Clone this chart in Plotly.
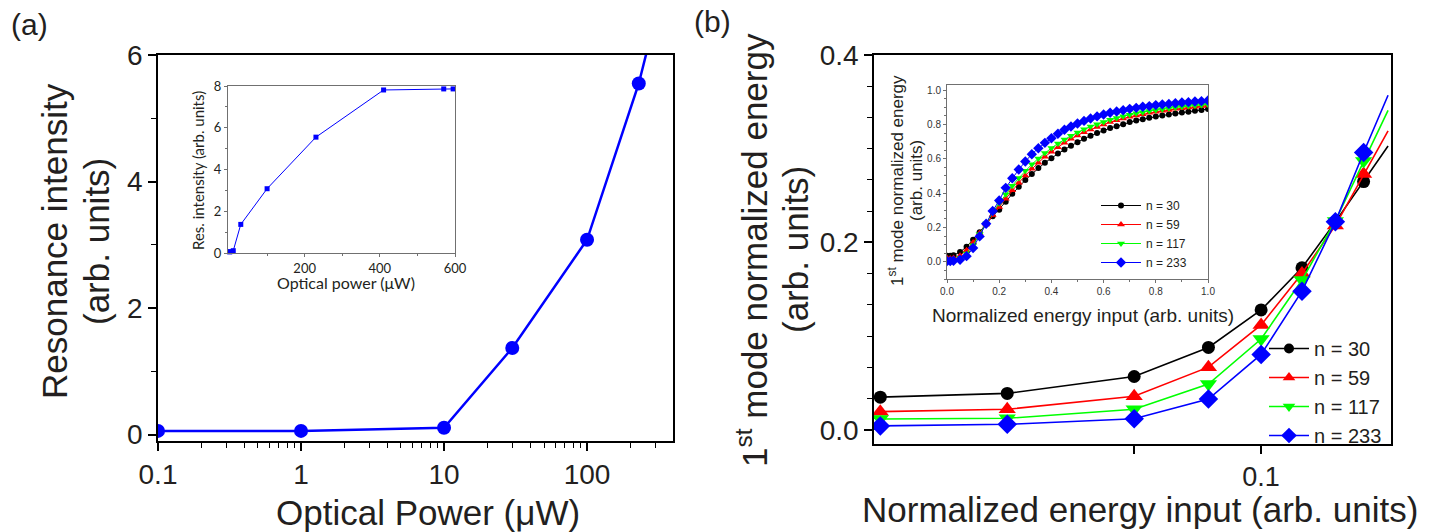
import plotly.graph_objects as go

W, H = 1436, 532

# ---------------- data ----------------
# panel (a): resonance intensity vs optical power
power_uw = [0.1, 1, 10, 30, 100, 230, 410, 570, 595]
res_intensity = [0.06, 0.06, 0.11, 1.37, 3.08, 5.55, 7.81, 7.86, 7.86]

# panel (b): 1st mode normalized energy vs normalized energy input
energy_in = [0.0, 0.0125, 0.025, 0.05, 0.075, 0.1, 0.125, 0.15, 0.175, 0.2,
             0.225, 0.25, 0.275, 0.3, 0.325, 0.35, 0.375, 0.4, 0.425, 0.45,
             0.475, 0.5, 0.525, 0.55, 0.575, 0.6, 0.625, 0.65, 0.675, 0.7,
             0.725, 0.75, 0.775, 0.8, 0.825, 0.85, 0.875, 0.9, 0.925, 0.95,
             0.975, 1.0]
n30 = [0.036, 0.035, 0.039, 0.057, 0.088, 0.128, 0.173, 0.222, 0.265, 0.303,
       0.350, 0.396, 0.437, 0.476, 0.511, 0.546, 0.577, 0.604, 0.631, 0.654,
       0.676, 0.697, 0.717, 0.734, 0.750, 0.765, 0.779, 0.790, 0.802, 0.814,
       0.823, 0.831, 0.839, 0.847, 0.852, 0.858, 0.864, 0.870, 0.874, 0.880,
       0.884, 0.890]
n59 = [0.022, 0.0195, 0.022, 0.036, 0.067, 0.112, 0.167, 0.218, 0.273, 0.319,
       0.367, 0.417, 0.460, 0.503, 0.542, 0.577, 0.612, 0.641, 0.668, 0.693,
       0.717, 0.736, 0.755, 0.771, 0.786, 0.800, 0.814, 0.825, 0.835, 0.845,
       0.852, 0.860, 0.868, 0.874, 0.880, 0.885, 0.891, 0.895, 0.899, 0.903,
       0.907, 0.911]
n117 = [0.012, 0.0117, 0.0124, 0.022, 0.049, 0.097, 0.160, 0.223, 0.287, 0.341,
        0.393, 0.443, 0.488, 0.530, 0.568, 0.602, 0.634, 0.663, 0.689, 0.713,
        0.734, 0.754, 0.772, 0.788, 0.802, 0.815, 0.827, 0.838, 0.848, 0.857,
        0.865, 0.872, 0.878, 0.884, 0.889, 0.894, 0.899, 0.903, 0.907, 0.911,
        0.914, 0.917]
n233 = [0.004, 0.0043, 0.006, 0.012, 0.033, 0.0805, 0.148, 0.222, 0.296, 0.357,
        0.431, 0.487, 0.538, 0.584, 0.627, 0.662, 0.693, 0.720, 0.746, 0.769,
        0.788, 0.806, 0.821, 0.835, 0.847, 0.858, 0.868, 0.876, 0.883, 0.891,
        0.897, 0.903, 0.907, 0.913, 0.917, 0.920, 0.924, 0.928, 0.930, 0.934,
        0.936, 0.940]
series_labels = ["n = 30", "n = 59", "n = 117", "n = 233"]
series_values = [n30, n59, n117, n233]

# ---------------- style ----------------
TXT = "#231f20"
FONT = "Liberation Sans"
colors = ["#000000", "#ff0000", "#00ff00", "#0000ff"]
symbols = ["circle", "triangle-up", "triangle-down", "diamond"]
main_sizes = [13, 15, 15, 15]
legend_sizes = [10, 11, 11, 12]
inset_sizes = [6, 7, 7, 8]
MAIN_X_MAX = 0.2


def dx(p):
    return p / W


def dy(p):
    return 1 - p / H


fig = go.Figure()

# (a) main
fig.add_trace(go.Scatter(
    x=power_uw, y=res_intensity, xaxis="x", yaxis="y", mode="lines+markers",
    line=dict(color="#0000ff", width=2.5), marker=dict(size=14, color="#0000ff"),
    showlegend=False))
# (a) inset
fig.add_trace(go.Scatter(
    x=power_uw, y=res_intensity, xaxis="x2", yaxis="y2", mode="lines+markers",
    line=dict(color="#0000ff", width=1), marker=dict(size=5, symbol="square", color="#0000ff"),
    showlegend=False, cliponaxis=False))

# (b) main (log view of low-energy part)
for lab, vals, c, s, ms, ls in zip(series_labels, series_values, colors, symbols,
                                   main_sizes, legend_sizes):
    xs, ys, sz = [], [], []
    for xv, yv in zip(energy_in, vals):
        if 0 < xv <= MAIN_X_MAX:
            xs.append(xv)
            ys.append(yv)
            sz.append(0 if xv >= MAIN_X_MAX else ms)
    fig.add_trace(go.Scatter(
        x=xs, y=ys, xaxis="x3", yaxis="y3", mode="lines+markers", name=lab,
        line=dict(color=c, width=1.6),
        marker=dict(size=sz, symbol=s, color=c, opacity=1, line=dict(width=0)),
        showlegend=False))
    # legend entry (no data, only the key)
    fig.add_trace(go.Scatter(
        x=[None], y=[None], xaxis="x3", yaxis="y3", mode="lines+markers", name=lab,
        line=dict(color=c, width=1.6), marker=dict(size=ls, symbol=s, color=c),
        legend="legend"))

# (b) inset
for lab, vals, c, s, ms in zip(series_labels, series_values, colors, symbols, inset_sizes):
    fig.add_trace(go.Scatter(
        x=energy_in, y=vals, xaxis="x4", yaxis="y4", mode="lines+markers", name=lab,
        line=dict(color=c, width=1), marker=dict(size=ms, symbol=s, color=c),
        legend="legend2"))

main_ax = dict(showgrid=False, zeroline=False, showline=True, linecolor="black",
               linewidth=1.5, mirror=True, ticks="outside", ticklen=8, tickwidth=1.5,
               tickcolor="black", automargin=False,
               tickfont=dict(family=FONT, size=28, color=TXT))
inset_ax = dict(showgrid=False, zeroline=False, showline=True, linecolor="#707070",
                linewidth=1, mirror=True, ticks="outside", ticklen=3, tickwidth=1,
                tickcolor="#707070", automargin=False)

log_minor = [k * 10 ** e for e in range(-1, 3) for k in range(2, 10)]

fig.update_layout(
    width=W, height=H, margin=dict(l=0, r=0, t=0, b=0),
    paper_bgcolor="white", plot_bgcolor="white",
    xaxis=dict(main_ax, type="log", range=[-1, 2.601], domain=[dx(158), dx(673)], anchor="y",
               tickvals=[0.1, 1, 10, 100], ticktext=["0.1", "1", "10", "100"],
               minor=dict(ticks="outside", ticklen=5, tickwidth=1, tickcolor="black",
                          tickvals=log_minor)),
    yaxis=dict(main_ax, range=[-0.1, 6], domain=[dy(441), dy(55)], anchor="x",
               tick0=0, dtick=2,
               minor=dict(ticks="outside", ticklen=5, tickwidth=1, tickcolor="black", dtick=1)),
    xaxis2=dict(inset_ax, range=[-4, 600], domain=[dx(228), dx(455)], anchor="y2",
                tickvals=[200, 400, 600],
                tickfont=dict(family="Lato", size=13, color=TXT),
                minor=dict(ticks="outside", ticklen=2, tickcolor="#707070", tickvals=[100, 300, 500])),
    yaxis2=dict(inset_ax, range=[0, 8], domain=[dy(253), dy(86)], anchor="x2",
                tick0=0, dtick=2,
                tickfont=dict(family="Lato", size=13, color=TXT),
                minor=dict(ticks="outside", ticklen=2, tickcolor="#707070", dtick=1)),
    xaxis3=dict(main_ax, type="log", range=[-1.918, -0.692], domain=[dx(874), dx(1391)],
                anchor="y3", tickvals=[0.1], ticktext=["0.1"], ticklen=8,
                tickfont=dict(family=FONT, size=27, color=TXT),
                minor=dict(ticks="outside", ticklen=8, tickwidth=1.5, tickcolor="black",
                           tickvals=[0.05])),
    yaxis3=dict(main_ax, range=[-0.015, 0.4], domain=[dy(444), dy(55)], anchor="x3",
                tick0=0, dtick=0.2, tickformat=".1f",
                minor=dict(ticks="outside", ticklen=5, tickwidth=1, tickcolor="black",
                           tick0=0, dtick=0.2 / 6)),
    xaxis4=dict(inset_ax, range=[0, 1], domain=[dx(947), dx(1208)], anchor="y4",
                tick0=0, dtick=0.2, tickformat=".1f",
                tickfont=dict(family=FONT, size=10, color="#333333"),
                minor=dict(ticks="outside", ticklen=2, tickcolor="#707070", dtick=0.1)),
    yaxis4=dict(inset_ax, range=[-0.1, 1.03], domain=[dy(279), dy(85)], anchor="x4",
                tick0=0, dtick=0.2, tickformat=".1f",
                tickfont=dict(family=FONT, size=10, color="#333333"),
                minor=dict(ticks="outside", ticklen=2, tickcolor="#707070", dtick=0.05)),
    legend=dict(x=dx(1264), y=dy(329), xanchor="left", yanchor="top",
                bgcolor="rgba(0,0,0,0)", font=dict(family=FONT, size=20, color=TXT),
                tracegroupgap=0, itemwidth=40),
    legend2=dict(x=dx(1096), y=dy(191), xanchor="left", yanchor="top",
                 bgcolor="rgba(0,0,0,0)", font=dict(family=FONT, size=12, color=TXT),
                 tracegroupgap=0, itemwidth=40),
)


def ann(text, x, y, size, angle=0, family=FONT, color=TXT):
    fig.add_annotation(text=text, x=dx(x), y=dy(y), xref="paper", yref="paper",
                       xanchor="center", yanchor="middle", showarrow=False,
                       textangle=angle, font=dict(family=family, size=size, color=color))


# panel labels
ann("(a)", 29, 25, 30)
ann("(b)", 712, 22, 30)
# (a) titles
ann("Resonance intensity", 55, 241, 35, -90)
ann("(arb. units)", 97, 241, 35, -90)
ann("Optical Power (μW)", 428, 512, 35)
# (a) inset titles
ann("Res. intensity (arb. units)", 198, 171, 15, -90, family="Lato")
ann("Optical power (μW)", 346, 282, 16, family="Lato")
# (b) titles
ann("1<sup>st</sup> mode normalized energy", 752, 250, 35, -90)
ann("(arb. units)", 795, 250, 35, -90)
ann("Normalized energy input (arb. units)", 1140, 509, 35)
# (b) inset titles
ann("1<sup>st</sup> mode normalized energy", 896, 181, 17, -90)
ann("(arb. units)", 916, 181, 17, -90)
ann("Normalized energy input (arb. units)", 1083, 315, 19)

fig.write_html("out.html")
